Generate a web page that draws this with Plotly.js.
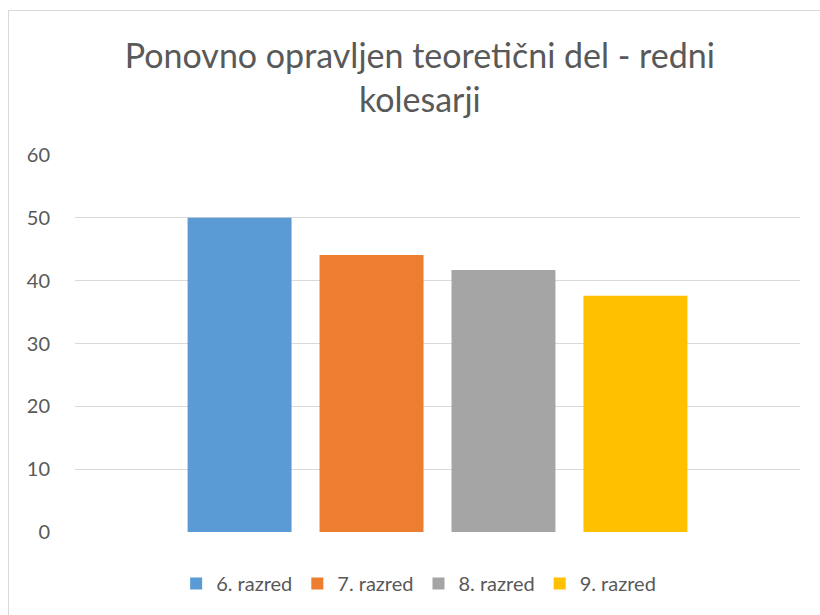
<!DOCTYPE html>
<html>
<head>
<meta charset="utf-8">
<script src="https://cdn.plot.ly/plotly-3.0.1.min.js"></script>
<style>
  html, body { margin: 0; padding: 0; background: #fff; }
  #wrap { position: relative; width: 820px; height: 615px; }
  #chart { position: absolute; left: 0; top: 0; width: 820px; height: 615px; }
  #frame { position: absolute; left: 8px; top: 10px; width: 812px; height: 605px;
           border-top: 1px solid #d9d9d9; border-left: 1px solid #d9d9d9; pointer-events: none; }
</style>
</head>
<body>
<div id="wrap"><div id="chart"></div><div id="frame"></div></div>
<script>
const category = ['Ponovno opravljen'];
const seriesNames = ['6. razred', '7. razred', '8. razred', '9. razred'];
const seriesValues = [50, 44.1, 41.7, 37.6];
const seriesColors = ['#5B9BD5', '#ED7D31', '#A5A5A5', '#FFC000'];
const yTicks = [0, 10, 20, 30, 40, 50, 60];

const data = seriesNames.map((name, i) => ({
  type: 'bar',
  name: name,
  x: category,
  y: [seriesValues[i]],
  marker: { color: seriesColors[i] },
  hoverinfo: 'name+y'
}));

const layout = {
  width: 820,
  height: 615,
  paper_bgcolor: '#ffffff',
  plot_bgcolor: '#ffffff',
  font: { family: 'Lato, sans-serif', color: '#595959' },
  title: {
    text: 'Ponovno opravljen teoretični del - redni<br>kolesarji',
    font: { size: 34, color: '#595959', family: 'Lato, sans-serif' },
    x: 0.512, xanchor: 'center',
    y: 0.89, yanchor: 'top', yref: 'container'
  },
  margin: { l: 75, r: 20, t: 155, b: 83 },
  barmode: 'group',
  bargap: 0.272,
  bargroupgap: 0.212,
  xaxis: {
    type: 'category',
    showticklabels: false,
    showgrid: false,
    zeroline: false,
    showline: false,
    fixedrange: true
  },
  yaxis: {
    range: [0, 60],
    tickvals: yTicks,
    ticktext: yTicks.map(String),
    showgrid: true,
    gridcolor: '#d9d9d9',
    gridwidth: 1,
    zeroline: false,
    showline: false,
    ticks: '',
    ticklabelstandoff: 24,
    tickfont: { size: 20, color: '#595959' }
  },
  showlegend: true,
  legend: {
    orientation: 'h',
    x: 0.474, xanchor: 'center',
    y: -0.085, yanchor: 'top',
    font: { size: 20, color: '#595959' },
    itemwidth: 30,
    traceorder: 'normal'
  }
};

Plotly.newPlot('chart', data, layout, { displayModeBar: false, staticPlot: true });
</script>
</body>
</html>
